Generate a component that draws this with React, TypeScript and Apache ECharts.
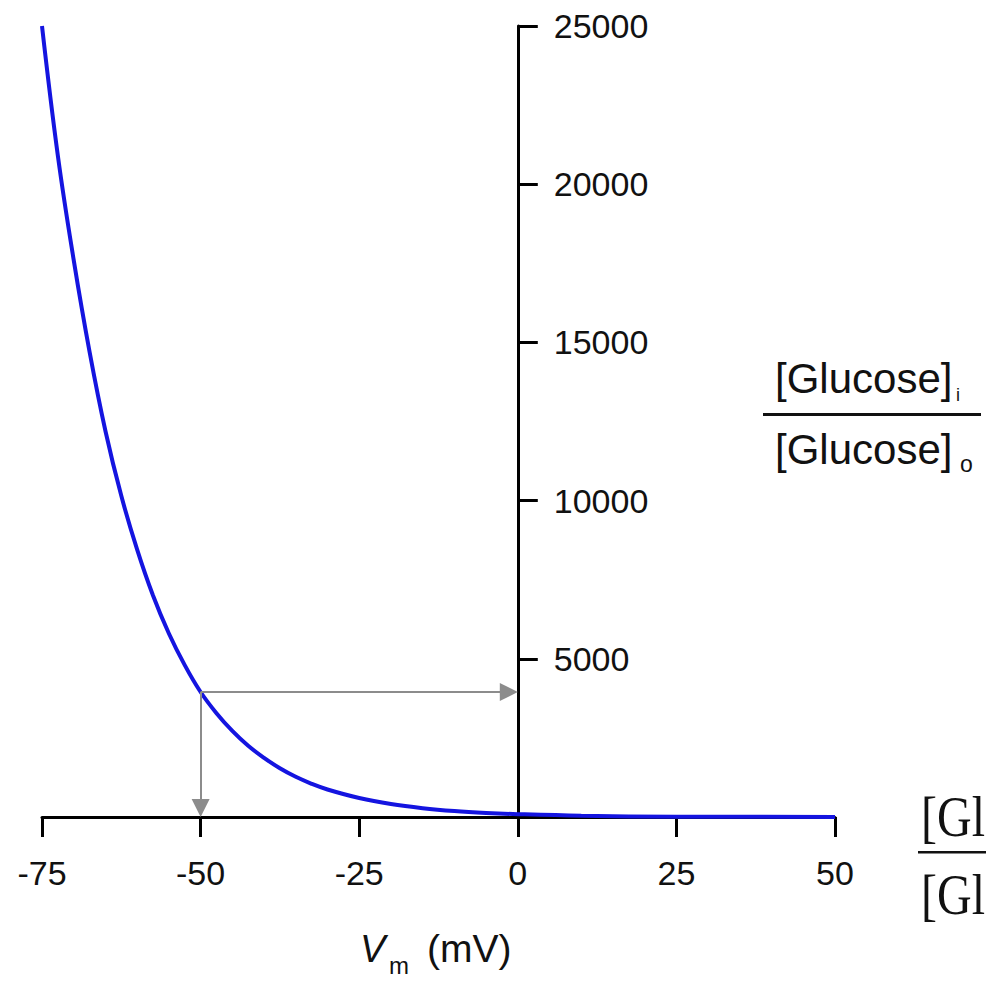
import React, { useEffect, useRef } from "react";
import * as echarts from "echarts";

// Membrane potential (mV)
const vm = [-75, -72.5, -70, -67.5, -65, -62.5, -60, -57.5, -55, -52.5, -50, -47.5, -45, -42.5, -40, -37.5, -35, -32.5, -30, -25, -20, -15, -10, -5, 0, 10, 25, 50];
// [Glucose]i / [Glucose]o
const ratio = [25000, 20900, 17600, 14700, 12200, 10150, 8450, 7000, 5800, 4800, 3950, 3280, 2720, 2250, 1870, 1540, 1270, 1050, 870, 600, 410, 280, 190, 130, 90, 40, 10, 2];
const xTicks = { min: -75, max: 50, interval: 25 };
const yTicks = { min: 0, max: 25000, interval: 5000 };
const markedVm = -50;

const W = 986;
const H = 990;
const G = { left: 42, right: 151, top: 26, bottom: 173 };
const SANS = "'Liberation Sans', Arial, Helvetica, sans-serif";
const SERIF = "'Liberation Serif', 'Times New Roman', serif";

export default function App() {
  const ref = useRef<HTMLDivElement>(null);
  useEffect(() => {
    if (!ref.current) return;
    const chart = echarts.init(ref.current, undefined, { renderer: "svg" });
    const plotW = W - G.left - G.right;
    const plotH = H - G.top - G.bottom;
    const arrowLen = 18;
    const dxHalf = ((xTicks.max - xTicks.min) / plotW) * (arrowLen / 2);
    const dyHalf = ((yTicks.max - yTicks.min) / plotH) * (arrowLen / 2);
    const markedRatio = ratio[vm.indexOf(markedVm)];
    // y axis sits at Vm = 0: shift it in from the right edge of the grid
    const yAxisOffset = -(plotW * (xTicks.max - 0)) / (xTicks.max - xTicks.min);
    const axisLineStyle = { color: "#000", width: 3 };
    const option: any = {
      animation: false,
      grid: { ...G, outerBoundsMode: "none", containLabel: false },
      xAxis: {
        type: "value",
        min: xTicks.min,
        max: xTicks.max,
        interval: xTicks.interval,
        axisLine: { show: true, onZero: true, lineStyle: axisLineStyle },
        axisTick: { show: true, length: 20, lineStyle: axisLineStyle },
        axisLabel: { fontSize: 34, color: "#111", fontFamily: SANS, margin: 39 },
        splitLine: { show: false },
      },
      yAxis: {
        type: "value",
        position: "right",
        offset: yAxisOffset,
        min: yTicks.min,
        max: yTicks.max,
        interval: yTicks.interval,
        axisLine: { show: true, onZero: false, lineStyle: axisLineStyle },
        axisTick: { show: true, inside: false, length: 20, lineStyle: axisLineStyle },
        axisLabel: {
          margin: 36,
          fontSize: 34,
          color: "#111",
          fontFamily: SANS,
          formatter: (v: number) => (v === 0 ? "" : String(v)),
        },
        splitLine: { show: false },
      },
      series: [
        {
          type: "line",
          data: vm.map((v, i) => [v, ratio[i]]),
          showSymbol: false,
          smooth: 0.4,
          lineStyle: { color: "#1414e0", width: 4 },
          markLine: {
            silent: true,
            symbol: ["none", "triangle"],
            symbolSize: [18, 18],
            label: { show: false },
            lineStyle: { color: "#8c8c8c", width: 2, type: "solid" },
            itemStyle: { color: "#8c8c8c" },
            data: [
              [{ coord: [markedVm, markedRatio] }, { coord: [markedVm, yTicks.min + dyHalf] }],
              [{ coord: [markedVm, markedRatio] }, { coord: [0 - dxHalf, markedRatio] }],
            ],
          },
        },
      ],
      graphic: [
        { type: "text", left: 775, top: 357, style: { text: "[Glucose]", font: `42px ${SANS}`, fill: "#111" } },
        { type: "text", left: 956, top: 386, style: { text: "i", font: `18px ${SANS}`, fill: "#111" } },
        { type: "rect", shape: { x: 763, y: 413, width: 218, height: 3 }, style: { fill: "#111" } },
        { type: "text", left: 775, top: 428, style: { text: "[Glucose]", font: `42px ${SANS}`, fill: "#111" } },
        { type: "text", left: 960, top: 452, style: { text: "o", font: `23px ${SANS}`, fill: "#111" } },
        { type: "text", left: 360, top: 930, style: { text: "V", font: `italic 38px ${SANS}`, fill: "#111" } },
        { type: "text", left: 389, top: 953, style: { text: "m", font: `24px ${SANS}`, fill: "#111" } },
        { type: "text", left: 427, top: 929, style: { text: "(mV)", font: `39px ${SANS}`, fill: "#111" } },
        { type: "text", x: 921, y: 788, scaleY: 1.2, style: { text: "[Gl", font: `48px ${SERIF}`, fill: "#111" } },
        { type: "rect", shape: { x: 918, y: 851, width: 80, height: 2.5 }, style: { fill: "#111" } },
        { type: "text", x: 921, y: 866, scaleY: 1.2, style: { text: "[Gl", font: `48px ${SERIF}`, fill: "#111" } },
      ],
    };
    chart.setOption(option);
    return () => chart.dispose();
  }, []);
  return (
    <div
      ref={ref}
      style={{ position: "fixed", left: 0, top: 0, width: W, height: H, background: "#fff" }}
    />
  );
}
